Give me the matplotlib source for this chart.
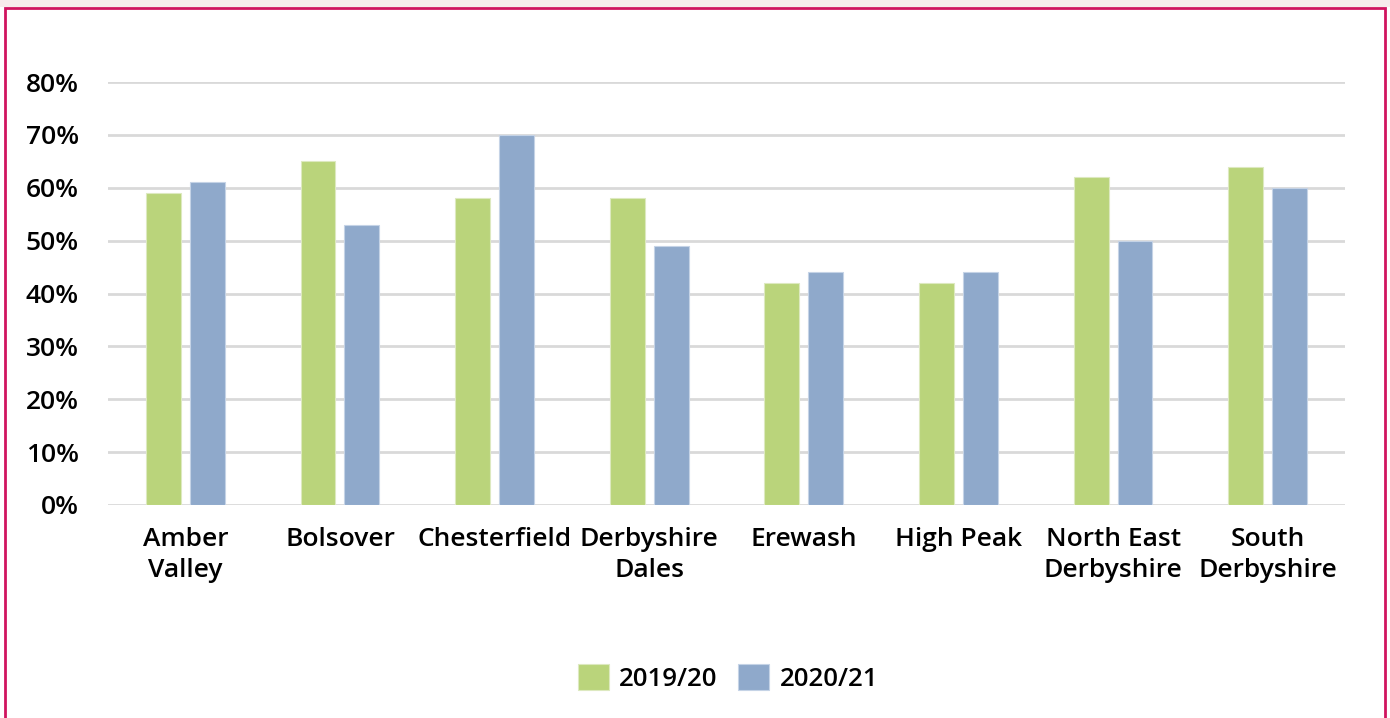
import numpy as np
import matplotlib.pyplot as plt
from matplotlib.patches import Rectangle

districts = ["Amber\nValley", "Bolsover", "Chesterfield", "Derbyshire\nDales",
             "Erewash", "High Peak", "North East\nDerbyshire", "South\nDerbyshire"]
y2019 = [59, 65, 58, 58, 42, 42, 62, 64]
y2020 = [61, 53, 70, 49, 44, 44, 50, 60]
yticks = [0, 10, 20, 30, 40, 50, 60, 70, 80]

green = '#bad47b'
blue = '#8fa9cb'

plt.rcParams['font.family'] = ['Open Sans', 'DejaVu Sans']
plt.rcParams['font.weight'] = 600

fig = plt.figure(figsize=(13.9, 7.18), dpi=100)
ax = fig.add_axes([108/1390, 1 - 505/718, (1345-108)/1390, (505-82)/718])

x = np.arange(len(districts))
w = 0.226
off = 0.142
ax.bar(x - off, y2019, w, color=green, edgecolor='#dde9c0', linewidth=0.8, label='2019/20', zorder=3)
ax.bar(x + off, y2020, w, color=blue, edgecolor='#c5d3e6', linewidth=0.8, label='2020/21', zorder=3)

ax.set_xlim(-0.5, len(districts) - 0.5)
ax.set_ylim(0, 80)
ax.set_yticks(yticks)
ax.set_yticklabels([f'{t}%' for t in yticks])
ax.set_xticks(x)
ax.set_xticklabels(districts, linespacing=1.3)
ax.grid(axis='y', color='#d9d9d9', linewidth=2, zorder=0)
for s in ax.spines.values():
    s.set_visible(False)
ax.tick_params(axis='both', length=0, labelsize=19, colors='black')
ax.tick_params(axis='y', pad=21)
ax.tick_params(axis='x', pad=16)

fig.legend(loc='center', bbox_to_anchor=(728/1390, 1 - 678/718), ncol=2, frameon=False,
           fontsize=18.5, handlelength=1.2, handleheight=1.2, columnspacing=0.8,
           handletextpad=0.4)

# page frame
fig.patches.append(Rectangle((0, 1 - 7/718), 1, 7/718, transform=fig.transFigure,
                             facecolor='#f7ecec', edgecolor='none', zorder=-1))
fig.patches.append(Rectangle((5/1390, -0.02), (1385-5)/1390, 1 - 8/718 + 0.02,
                             transform=fig.transFigure, facecolor='none',
                             edgecolor='#d0145f', linewidth=2))

fig.savefig('out.png', dpi=100)
